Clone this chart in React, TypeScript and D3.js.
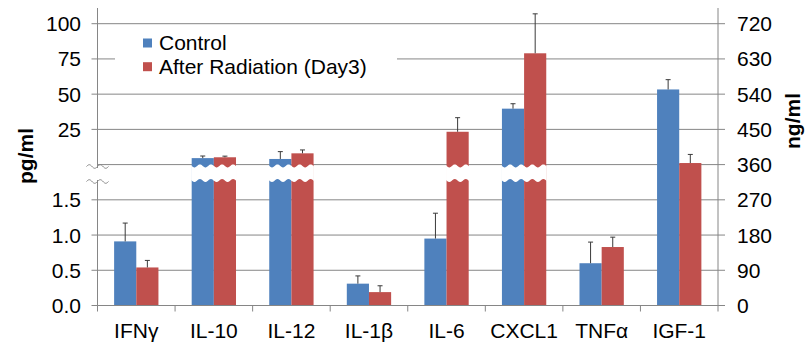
import * as d3 from 'd3'

const categories = ['IFNγ', 'IL-10', 'IL-12', 'IL-1β', 'IL-6', 'CXCL1', 'TNFα', 'IGF-1']
// IGF-1 is read on the right axis (ng/ml), the rest on the broken left axis (pg/ml)
const units = ['pg', 'pg', 'pg', 'pg', 'pg', 'pg', 'pg', 'ng']
const control = [0.91, 4.6, 4.0, 0.31, 0.95, 39.7, 0.6, 552]
const controlErr = [0.26, 1.5, 5.2, 0.11, 0.36, 3.5, 0.3, 25]
const radiation = [0.54, 5.2, 8.0, 0.19, 23.3, 79.0, 0.83, 364]
const radiationErr = [0.1, 0.8, 2.4, 0.09, 10, 28, 0.14, 22]

const seriesNames = ['Control', 'After Radiation (Day3)']
const seriesColors = ['#4F81BD', '#C0504D']

const leftLowTicks = [0, 0.5, 1.0, 1.5]
const leftHighTicks = [25, 50, 75, 100]
const rightTicks = [0, 90, 180, 270, 360, 450, 540, 630, 720]

const width = 806
const height = 348
const plot = { left: 97.5, right: 718, top: 8, bottom: 305.5 }
const font = 'Arial, "Liberation Sans", sans-serif'
const gridColor = '#868686'

// right axis units drive the vertical position
const y = d3.scaleLinear().domain([0, 720]).range([plot.bottom, 23.7])
const pgLow = d3.scaleLinear().domain([0, 1.5]).range([0, 270])
const pgHigh = d3.scaleLinear().domain([0, 100]).range([360, 720])
const breakTop = y(360) + 1.3
const breakBottom = 180.5

function toUnits(unit: string, base: number, v: number) {
  if (unit === 'ng') return v
  return base < 2 ? pgLow(v) : pgHigh(v)
}

const x0 = d3.scaleBand().domain(categories).range([plot.left, plot.right]).padding(0)
const x1 = d3
  .scaleBand()
  .domain(seriesNames)
  .range([0, x0.bandwidth()])
  .paddingInner(0)
  .paddingOuter(0.75)

function wavePath(xa: number, xb: number) {
  const period = 11
  const top: [number, number][] = []
  const bottom: [number, number][] = []
  for (let xx = xa - 0.5; xx <= xb + 0.5; xx += 0.5) {
    const s = Math.sin(((xx - xa) / period) * Math.PI * 2)
    top.push([xx, breakTop + 1.5 * s])
    bottom.push([xx, breakBottom + 1.5 * s])
  }
  const line = d3.line()
  return line([...top, ...bottom.reverse()]) + 'Z'
}

function tilde(cx: number, cy: number) {
  const pts: [number, number][] = []
  for (let xx = -11; xx <= 11; xx += 0.5) {
    pts.push([cx + xx, cy - 1.8 * Math.sin((xx / 11) * Math.PI * 2)])
  }
  return d3.line()(pts) || ''
}

export default function App() {
  const series = [
    { name: seriesNames[0], values: control, errs: controlErr, color: seriesColors[0] },
    { name: seriesNames[1], values: radiation, errs: radiationErr, color: seriesColors[1] },
  ]

  const leftTicks = [
    ...leftLowTicks.map((t) => ({ v: pgLow(t), label: d3.format('.1f')(t) })),
    ...leftHighTicks.map((t) => ({ v: pgHigh(t), label: String(t) })),
  ]

  return (
    <svg
      width={width}
      height={height}
      style={{ position: 'absolute', left: 0, top: 0, background: '#fff' }}
      fontFamily={font}
    >
      {/* gridlines */}
      {rightTicks.map((t) => (
        <line key={'g' + t} x1={plot.left} x2={plot.right} y1={y(t)} y2={y(t)} stroke={gridColor} strokeWidth={1} />
      ))}

      {/* bars */}
      {series.map((s) =>
        categories.map((c, i) => {
          const u = toUnits(units[i], s.values[i], s.values[i])
          const bx = (x0(c) || 0) + (x1(s.name) || 0)
          return (
            <rect
              key={s.name + c}
              x={bx}
              y={y(u)}
              width={x1.bandwidth()}
              height={y(0) - y(u)}
              fill={s.color}
            />
          )
        })
      )}

      {/* break gaps in bars */}
      {series.map((s) =>
        categories.map((c, i) => {
          const u = toUnits(units[i], s.values[i], s.values[i])
          if (units[i] !== 'pg' || u <= 360) return null
          const bx = (x0(c) || 0) + (x1(s.name) || 0)
          return <path key={'w' + s.name + c} d={wavePath(bx, bx + x1.bandwidth())} fill="#fff" />
        })
      )}

      {/* error bars */}
      {series.map((s) =>
        categories.map((c, i) => {
          const v = s.values[i]
          const top = toUnits(units[i], v, v + s.errs[i])
          const base = toUnits(units[i], v, v)
          const cx = (x0(c) || 0) + (x1(s.name) || 0) + x1.bandwidth() / 2
          return (
            <g key={'e' + s.name + c} stroke="#3a3a3a" strokeWidth={1}>
              <line x1={cx} x2={cx} y1={y(base)} y2={y(top)} />
              <line x1={cx - 2.5} x2={cx + 2.5} y1={y(top)} y2={y(top)} />
            </g>
          )
        })
      )}

      {/* x axis */}
      <line x1={plot.left} x2={plot.right} y1={y(0)} y2={y(0)} stroke={gridColor} />
      {[...categories.map((c) => x0(c) || 0), plot.right].map((tx, i) => (
        <line key={'xt' + i} x1={tx} x2={tx} y1={y(0)} y2={y(0) + 6} stroke={gridColor} />
      ))}
      {categories.map((c) => (
        <text key={'xl' + c} x={(x0(c) || 0) + x0.bandwidth() / 2} y={338} textAnchor="middle" fontSize={21} fill="#000">
          {c}
        </text>
      ))}

      {/* left axis */}
      <line x1={plot.left} x2={plot.left} y1={plot.top} y2={plot.bottom} stroke={gridColor} />
      <rect x={plot.left - 2} y={168} width={4} height={12} fill="#fff" />
      <path d={tilde(plot.left, 166.5)} fill="none" stroke={gridColor} />
      <path d={tilde(plot.left, 181.5)} fill="none" stroke={gridColor} />
      {leftTicks.map((t) => (
        <g key={'lt' + t.label}>
          <line x1={plot.left - 6} x2={plot.left} y1={y(t.v)} y2={y(t.v)} stroke={gridColor} />
          <text x={81} y={y(t.v)} dy="0.36em" textAnchor="end" fontSize={21} fill="#000">
            {t.label}
          </text>
        </g>
      ))}
      <text
        transform={`translate(33,156) rotate(-90)`}
        textAnchor="middle"
        fontSize={21}
        fontWeight="bold"
        fill="#000"
      >
        pg/ml
      </text>

      {/* right axis */}
      <line x1={plot.right} x2={plot.right} y1={plot.top} y2={plot.bottom} stroke={gridColor} />
      {rightTicks.map((t) => (
        <g key={'rt' + t}>
          <line x1={plot.right} x2={plot.right + 7} y1={y(t)} y2={y(t)} stroke={gridColor} />
          <text x={737} y={y(t)} dy="0.36em" textAnchor="start" fontSize={21} fill="#000">
            {t}
          </text>
        </g>
      ))}
      <text
        transform={`translate(800,121) rotate(-90)`}
        textAnchor="middle"
        fontSize={21}
        fontWeight="bold"
        fill="#000"
      >
        ng/ml
      </text>

      {/* legend */}
      <rect x={115} y={31} width={282} height={56} fill="#fff" />
      {series.map((s, i) => (
        <g key={'lg' + s.name} transform={`translate(143,${38.5 + i * 23.7})`}>
          <rect width={9} height={9} fill={s.color} />
          <text x={16} y={11.5} fontSize={21} fill="#000">
            {s.name}
          </text>
        </g>
      ))}
    </svg>
  )
}
